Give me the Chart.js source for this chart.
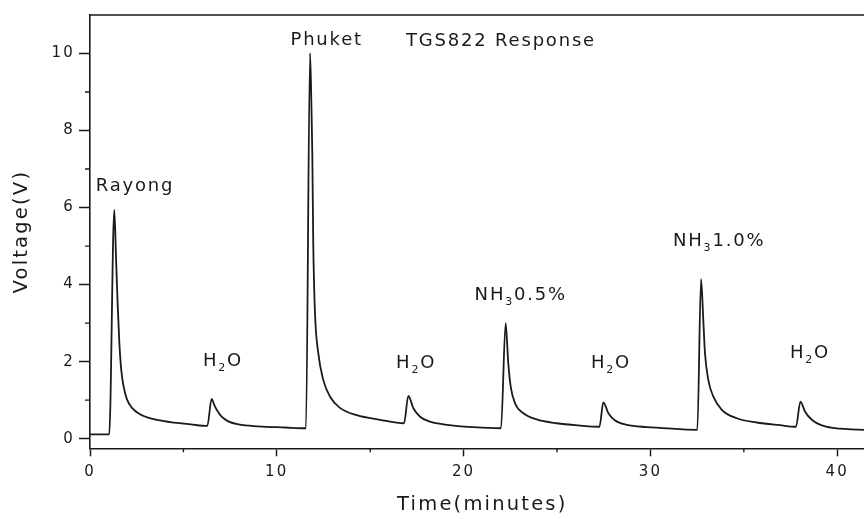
<!DOCTYPE html>
<html>
<head>
<meta charset="utf-8">
<script src="https://cdn.jsdelivr.net/npm/chart.js@4/dist/chart.umd.min.js"></script>
<style>
  html, body { margin: 0; padding: 0; background: #fff; overflow: hidden; }
  #wrap { width: 864px; height: 519px; overflow: hidden; }
</style>
</head>
<body>
<div id="wrap"><canvas id="chart" width="884" height="519"></canvas></div>
<script>
// sensor trace (time in minutes, voltage in V)
const timeMin = [
  0, 1.03, 1.30, 1.40, 1.48, 1.57, 1.67, 1.80, 1.98, 2.25, 2.65, 3.30, 4.30, 5.40, 6.28,
  6.51, 6.65, 6.80, 7.05, 7.40, 7.95, 9.00, 10.44, 11.56,
  11.78, 11.85, 11.90, 11.95, 12.04, 12.22, 12.49, 12.85, 13.38, 14.28, 15.52, 16.81,
  17.04, 17.31, 17.67, 18.20, 19.10, 20.52, 22.00,
  22.25, 22.39, 22.52, 22.75, 23.20, 23.91, 24.98, 26.23, 27.27,
  27.48, 27.75, 28.11, 28.73, 29.80, 30.51, 32.51,
  32.71, 32.83, 32.92, 33.10, 33.37, 33.82, 34.62, 35.69, 36.94, 37.79,
  38.03, 38.28, 38.64, 39.26, 40.15, 41.43, 42.00
];
const voltage = [
  0.11, 0.11, 5.94, 4.60, 3.50, 2.50, 1.80, 1.35, 1.02, 0.80, 0.64, 0.52, 0.43, 0.37, 0.33,
  1.03, 0.88, 0.74, 0.57, 0.45, 0.37, 0.32, 0.29, 0.27,
  10.01, 8.71, 7.41, 5.10, 3.30, 2.22, 1.52, 1.09, 0.80, 0.61, 0.49, 0.40,
  1.11, 0.79, 0.57, 0.44, 0.36, 0.30, 0.27,
  3.00, 1.96, 1.35, 0.92, 0.66, 0.50, 0.40, 0.34, 0.31,
  0.94, 0.66, 0.47, 0.36, 0.30, 0.28, 0.23,
  4.14, 3.08, 2.22, 1.52, 1.09, 0.75, 0.53, 0.42, 0.35, 0.31,
  0.96, 0.70, 0.49, 0.33, 0.26, 0.23, 0.23
];

const xTicks = [0, 10, 20, 30, 40];
const xMinorTicks = [5, 15, 25, 35];
const yTicks = [0, 2, 4, 6, 8, 10];
const yMinorTicks = [1, 3, 5, 7, 9];

// peak labels, "_" marks a subscript character
const labelTexts = ['Rayong', 'Phuket', 'TGS822 Response', 'H_2O', 'H_2O', 'NH_30.5%', 'H_2O', 'NH_31.0%', 'H_2O'];
const labelX = [2.41, 12.67, 22.0, 7.12, 17.46, 23.06, 27.89, 33.68, 38.54];
const labelY = [6.59, 10.39, 10.36, 2.06, 2.0, 3.78, 2.0, 5.17, 2.27];

const ink = '#1a1a1a';
Chart.defaults.font.family = "'DejaVu Sans', Verdana, sans-serif";
Chart.defaults.color = ink;

const splitSub = (txt) => {
  const parts = [];
  for (let i = 0; i < txt.length; i++) {
    if (txt[i] === '_') { parts.push({t: txt[i + 1], sub: true}); i++; }
    else if (parts.length && !parts[parts.length - 1].sub) parts[parts.length - 1].t += txt[i];
    else parts.push({t: txt[i], sub: false});
  }
  return parts;
};

const spacing = {
  id: 'spacing',
  beforeDraw(chart) { chart.ctx.letterSpacing = '2.2px'; }
};

// top frame line and the short minor ticks
const frame = {
  id: 'frame',
  afterDraw(chart) {
    const {ctx, chartArea: a, scales: {x, y}} = chart;
    ctx.save();
    ctx.strokeStyle = ink;
    ctx.lineWidth = 1.6;
    ctx.beginPath();
    ctx.moveTo(a.left, a.top);
    ctx.lineTo(a.right, a.top);
    ctx.lineTo(a.right, a.bottom);
    ctx.stroke();
    ctx.lineWidth = 1.4;
    ctx.beginPath();
    xMinorTicks.forEach(v => {
      const px = x.getPixelForValue(v);
      ctx.moveTo(px, a.bottom);
      ctx.lineTo(px, a.bottom + 4);
    });
    yMinorTicks.forEach(v => {
      const py = y.getPixelForValue(v);
      ctx.moveTo(a.left - 5, py);
      ctx.lineTo(a.left, py);
    });
    ctx.stroke();
    ctx.restore();
  }
};

const peakLabels = {
  id: 'peakLabels',
  afterDatasetsDraw(chart) {
    const {ctx, scales: {x, y}} = chart;
    const mainFont = "18px 'DejaVu Sans'";
    const subFont = "11px 'DejaVu Sans'";
    ctx.save();
    ctx.fillStyle = ink;
    ctx.letterSpacing = '1.8px';
    ctx.textBaseline = 'alphabetic';
    ctx.textAlign = 'left';
    labelTexts.forEach((txt, i) => {
      const parts = splitSub(txt);
      let w = 0;
      parts.forEach(p => {
        ctx.font = p.sub ? subFont : mainFont;
        w += ctx.measureText(p.t).width;
      });
      let cx = x.getPixelForValue(labelX[i]) - w / 2;
      const base = y.getPixelForValue(labelY[i]) + 6.5;
      parts.forEach(p => {
        ctx.font = p.sub ? subFont : mainFont;
        ctx.fillText(p.t, cx, base + (p.sub ? 5 : 0));
        cx += ctx.measureText(p.t).width;
      });
    });
    ctx.restore();
  }
};

new Chart(document.getElementById('chart'), {
  type: 'line',
  data: {
    datasets: [{
      data: timeMin.map((t, i) => ({x: t, y: voltage[i]})),
      borderColor: ink,
      borderWidth: 1.8,
      pointRadius: 0,
      cubicInterpolationMode: 'monotone',
      fill: false
    }]
  },
  options: {
    responsive: false,
    animation: false,
    events: [],
    layout: { padding: { left: 0, top: 15, right: 9.4, bottom: 0 } },
    plugins: { legend: { display: false }, tooltip: { enabled: false } },
    scales: {
      x: {
        type: 'linear',
        min: 0,
        max: 42,
        afterBuildTicks: s => { s.ticks = xTicks.map(v => ({value: v})); },
        afterFit: s => { s.height = 70.7; },
        ticks: { font: { size: 15 }, padding: 6.7, maxRotation: 0, color: ink },
        grid: { drawOnChartArea: false, tickLength: 8, tickWidth: 1.5, tickColor: ink },
        border: { color: ink, width: 1.6 },
        title: { display: true, text: 'Time(minutes)', font: { size: 19.5 }, padding: { top: 0, bottom: 2.5 }, color: ink }
      },
      y: {
        type: 'linear',
        min: -0.25,
        max: 11,
        afterBuildTicks: s => { s.ticks = yTicks.map(v => ({value: v})); },
        afterFit: s => { s.width = 90; },
        ticks: { font: { size: 15 }, padding: 4, color: ink },
        grid: { drawOnChartArea: false, tickLength: 11, tickWidth: 1.5, tickColor: ink },
        border: { color: ink, width: 1.6 },
        title: { display: true, text: 'Voltage(V)', font: { size: 19.5 }, padding: { top: 10.5, bottom: 0 }, color: ink }
      }
    }
  },
  plugins: [spacing, frame, peakLabels]
});
</script>
</body>
</html>
